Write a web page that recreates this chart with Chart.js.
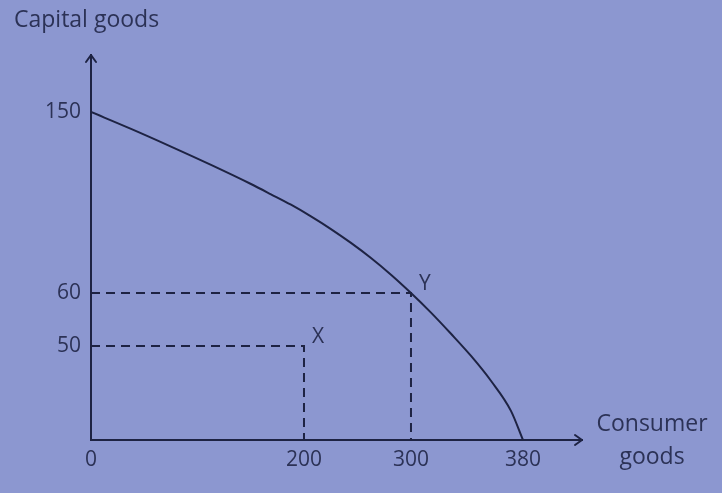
<!DOCTYPE html>
<html>
<head>
<meta charset="utf-8">
<script src="https://cdn.jsdelivr.net/npm/chart.js@4.4.1/dist/chart.umd.min.js"></script>
<style>
  html, body { margin: 0; padding: 0; background: #8c97d0; }
  #wrap { width: 722px; height: 493px; position: relative; }
</style>
</head>
<body>
<div id="wrap"><canvas id="ppfChart"></canvas></div>
<script>
// production possibility frontier
const curveX = [0, 37.6, 75.1, 112.7, 150.2, 169, 187.8, 206.5, 225.2, 243.9, 262.6, 281.3, 300, 314.3, 328.6, 342.9, 357.1, 371.4, 380];
const curveY = [150, 141.6, 132.8, 123.7, 114.2, 109.1, 103.9, 98.1, 91.8, 84.9, 77.4, 69.1, 60, 56.3, 52.3, 44.7, 31.5, 15.5, 0];

// marked combinations
const pointNames = ["X", "Y"];
const pointsX = [200, 300];
const pointsY = [50, 60];

const xTicks = [0, 200, 300, 380];
const yTicks = [50, 60, 150];

const yTitle = "Capital goods";
const xTitle = ["Consumer", "goods"];

const ink = "#1e2343";
const textColor = "#2c3256";
const font = "'Open Sans', 'Noto Sans', sans-serif";

// the diagram is not drawn to scale, so the axes are piecewise linear between the labelled values
class PiecewiseScale extends Chart.LinearScale {
  getPixelForValue(value) {
    const vals = this.options.stopValues;
    const pos = this.options.stopPos;
    let i = 0;
    while (i < vals.length - 2 && value > vals[i + 1]) i++;
    const t = (value - vals[i]) / (vals[i + 1] - vals[i]);
    return this.getPixelForDecimal(pos[i] + t * (pos[i + 1] - pos[i]));
  }
  getValueForPixel(pixel) {
    const vals = this.options.stopValues;
    const pos = this.options.stopPos;
    const d = this.getDecimalForPixel(pixel);
    let i = 0;
    while (i < pos.length - 2 && d > pos[i + 1]) i++;
    const t = (d - pos[i]) / (pos[i + 1] - pos[i]);
    return vals[i] + t * (vals[i + 1] - vals[i]);
  }
}
PiecewiseScale.id = "piecewise";
PiecewiseScale.defaults = Chart.LinearScale.defaults;
Chart.register(PiecewiseScale);

const curveData = curveX.map((x, i) => ({ x: x, y: curveY[i] }));

const guideSets = pointsX.map((px, i) => ({
  label: "guide " + pointNames[i],
  data: [
    { x: 0, y: pointsY[i] },
    { x: px, y: pointsY[i] },
    { x: px, y: 0 },
  ],
  borderColor: ink,
  borderWidth: 2,
  borderDash: [9, 6],
  pointRadius: 0,
  tension: 0,
}));

const extras = {
  id: "extras",
  afterDraw(chart) {
    const c = chart.ctx;
    const area = chart.chartArea;
    c.save();
    c.strokeStyle = ink;
    c.lineWidth = 2;
    c.lineCap = "round";
    c.lineJoin = "round";
    // arrow heads
    c.beginPath();
    c.moveTo(area.left - 5, area.top + 7);
    c.lineTo(area.left, area.top);
    c.lineTo(area.left + 5, area.top + 7);
    c.moveTo(area.right - 7, area.bottom - 5);
    c.lineTo(area.right, area.bottom);
    c.lineTo(area.right - 7, area.bottom + 5);
    c.stroke();

    c.fillStyle = textColor;
    c.font = "23px " + font;
    c.textBaseline = "middle";
    c.textAlign = "left";
    c.fillText(yTitle, 14, 20);
    c.textAlign = "center";
    c.fillText(xTitle[0], area.right + 70, 424);
    c.fillText(xTitle[1], area.right + 70, 457);

    // point names
    const meta = chart.getDatasetMeta(chart.data.datasets.length - 1);
    c.font = "21px " + font;
    c.textAlign = "left";
    meta.data.forEach((pt, i) => {
      c.fillText(pointNames[i], pt.x + 8, pt.y - 9);
    });
    c.restore();
  },
};

const ctx = document.getElementById("ppfChart").getContext("2d");

const ppfChart = new Chart(ctx, {
  type: "line",
  data: {
    datasets: [
      {
        label: "PPF",
        data: curveData,
        borderColor: ink,
        borderWidth: 2,
        pointRadius: 0,
        cubicInterpolationMode: "monotone",
      },
      ...guideSets,
      {
        label: "points",
        data: pointsX.map((x, i) => ({ x: x, y: pointsY[i] })),
        showLine: false,
        pointRadius: 0,
      },
    ],
  },
  options: {
    responsive: true,
    maintainAspectRatio: false,
    animation: false,
    layout: { padding: { left: 0, top: 55, right: 140, bottom: 0 } },
    plugins: {
      legend: { display: false },
      tooltip: { enabled: false },
    },
    scales: {
      x: {
        type: "piecewise",
        min: 0,
        max: 420,
        stopValues: [0, 200, 300, 380, 420],
        stopPos: [0, 0.4338, 0.6517, 0.8798, 1],
        grid: { display: false, drawTicks: false },
        border: { display: true, color: ink, width: 2 },
        afterBuildTicks: (scale) => {
          scale.ticks = xTicks.map((v) => ({ value: v }));
        },
        afterFit: (scale) => {
          scale.height = 53;
        },
        ticks: {
          padding: 7,
          color: textColor,
          font: { family: font, size: 21 },
          maxRotation: 0,
          autoSkip: false,
        },
      },
      y: {
        type: "piecewise",
        min: 0,
        max: 178,
        stopValues: [0, 50, 60, 150, 178],
        stopPos: [0, 0.2442, 0.3818, 0.8519, 1],
        grid: { display: false, drawTicks: false },
        border: { display: true, color: ink, width: 2 },
        afterBuildTicks: (scale) => {
          scale.ticks = yTicks.map((v) => ({ value: v }));
        },
        afterFit: (scale) => {
          scale.width = 91;
        },
        ticks: {
          padding: 10,
          color: textColor,
          font: { family: font, size: 21 },
          autoSkip: false,
        },
      },
    },
  },
  plugins: [extras],
});
</script>
</body>
</html>
